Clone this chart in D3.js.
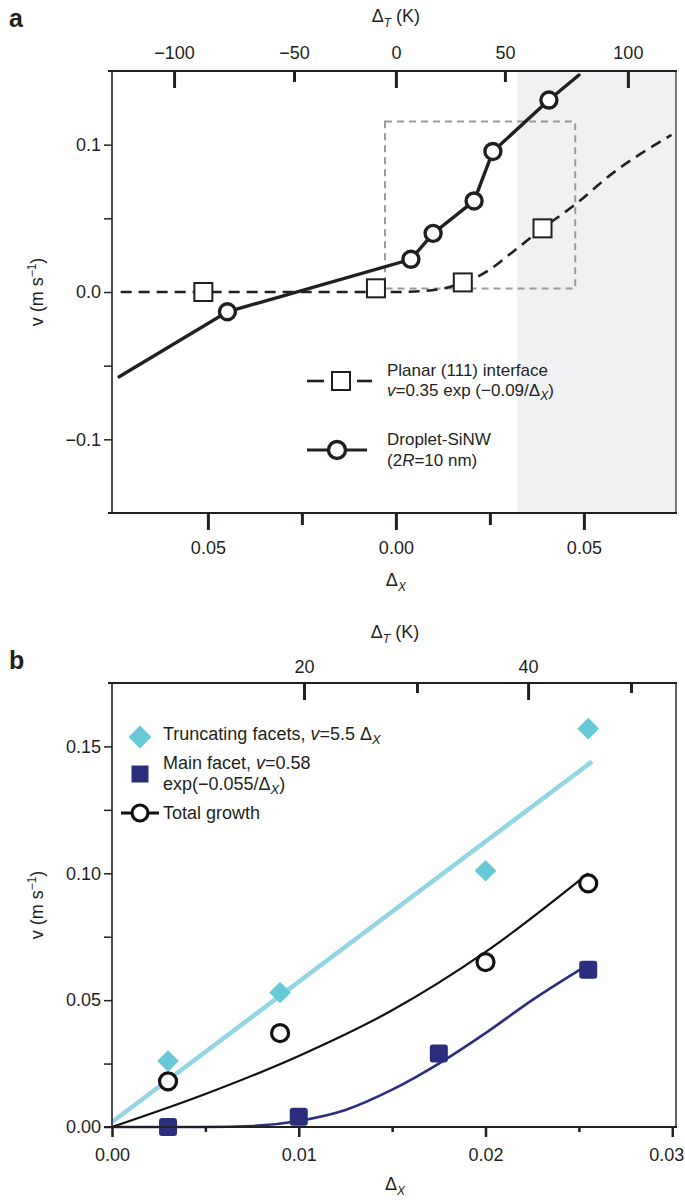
<!DOCTYPE html>
<html><head><meta charset="utf-8">
<script src="https://cdn.jsdelivr.net/npm/d3@7"></script>
<style>
body{margin:0;background:#fff}
svg{display:block}
text{font-family:"Liberation Sans",Arial,Helvetica,sans-serif;fill:#231f20}
</style>
</head><body>
<svg id="c" width="685" height="1201"></svg>
<script>
// ================= DATA =================
// ---- Panel a ----
const aDropX = [-0.0448, 0.0040, 0.0099, 0.0208, 0.0258, 0.0407];
const aDropV = [-0.0134, 0.0222, 0.0398, 0.0618, 0.0954, 0.1303];
const aDropLineX = [-0.0736, -0.0448, 0.0040, 0.0099, 0.0208, 0.0258, 0.0407, 0.0487];
const aDropLineV = [-0.0575, -0.0134, 0.0222, 0.0398, 0.0618, 0.0954, 0.1303, 0.1473];
const aPlanarX = [-0.0512, -0.0053, 0.0178, 0.0390];
const aPlanarV = [0.0, 0.0025, 0.0065, 0.0432];
const aPlanarFitX = [-0.0732, -0.03, 0.0, 0.008, 0.0145, 0.0178, 0.0241, 0.031, 0.039, 0.0475, 0.0576, 0.0733];
const aPlanarFitV = [0, 0, 0, 0.0008, 0.0035, 0.006, 0.0138, 0.027, 0.0432, 0.059, 0.0805, 0.1066];
const aBoxX = [-0.0029, 0.0477];
const aBoxV = [0.0023, 0.1157];
const aShadeX = [0.0322, 0.0745];
const aLeftTicks = [-0.1, -0.05, 0, 0.05, 0.1];
const aLeftLabels = ["\u22120.1", "", "0.0", "", "0.1"];
const aBottomMajor = [-0.05, 0, 0.05];
const aBottomMajorLabels = ["0.05", "0.00", "0.05"];
const aBottomMinor = [-0.025, 0.025];
const aTopMajorT = [-100, 0, 100];
const aTopMajorPos = [-0.0590, 0, 0.0617];
const aTopMinorT = [-50, 50];
const aTopMinorPos = [-0.0271, 0.0290];

// ---- Panel b ----
const bTruncX = [0.003, 0.009, 0.020, 0.0255];
const bTruncV = [0.026, 0.053, 0.101, 0.157];
const bTotalX = [0.003, 0.009, 0.020, 0.0255];
const bTotalV = [0.018, 0.037, 0.065, 0.096];
const bMainX = [0.003, 0.010, 0.0175, 0.0255];
const bMainV = [0.0, 0.004, 0.029, 0.062];
const bTruncFitX = [0, 0.0257];
const bTruncFitV = [0.002, 0.144];
const bTotalFitX = [0, 0.005, 0.01, 0.015, 0.02, 0.0255];
const bTotalFitV = [0, 0.013, 0.028, 0.046, 0.069, 0.100];
const bMainFitX = [0, 0.005, 0.0075, 0.01, 0.0125, 0.015, 0.0175, 0.02, 0.0225, 0.0255];
const bMainFitV = [0, 0.0, 0.0004, 0.0024, 0.0067, 0.0147, 0.025, 0.037, 0.050, 0.064];
const bLeftTicks = [0, 0.025, 0.05, 0.075, 0.10, 0.125, 0.15];
const bLeftLabels = ["0.00", "", "0.05", "", "0.10", "", "0.15"];
const bBottomMajor = [0, 0.01, 0.02, 0.03];
const bBottomMajorLabels = ["0.00", "0.01", "0.02", "0.03"];
const bBottomMinor = [0.005, 0.015, 0.025];
const bTopMajorT = [20, 40];
const bTopMajorPos = [0.01028, 0.02228];
const bTopMinorPos = [0.01633, 0.02779];

// ================= DRAWING =================
const INK = "#231f20";
const FONT = "'Liberation Sans',Arial,Helvetica,sans-serif";
const svg = d3.select("#c");

function axis(gen, vals, labels, inner, pad, sw, tx, ty) {
  const a = gen.tickValues(vals)
    .tickFormat((d, i) => labels ? labels[i] : "")
    .tickSizeInner(inner).tickSizeOuter(0).tickPadding(pad);
  const g = svg.append("g").attr("transform", `translate(${tx},${ty})`).call(a);
  g.attr("font-family", null).attr("font-size", 18);
  g.select(".domain").remove();
  g.selectAll(".tick line").attr("stroke", INK).attr("stroke-width", sw);
  g.selectAll(".tick text").attr("fill", INK).style("font-family", FONT).attr("font-size", 18);
  return g;
}

function deltaLabel(x, y, sub, rest) {
  const t = svg.append("text").attr("x", x).attr("y", y).attr("text-anchor", "middle").attr("font-size", 18);
  t.append("tspan").text("\u0394");
  t.append("tspan").attr("font-style", "italic").attr("font-size", 12).attr("dy", 5).text(sub);
  if (rest) t.append("tspan").attr("font-size", 18).attr("dy", -5).text(rest);
  return t;
}

function vLabel(cx, cy) {
  const t = svg.append("text").attr("transform", `translate(${cx},${cy}) rotate(-90)`)
    .attr("text-anchor", "middle").attr("font-size", 18);
  t.append("tspan").text("v (m s");
  t.append("tspan").attr("font-size", 12).attr("dy", -7).text("\u22121");
  t.append("tspan").attr("font-size", 18).attr("dy", 7).text(")");
}

// ---------- Panel a ----------
const A = {l: 112, r: 676, t: 71, b: 513};
const xA = d3.scaleLinear().domain([-0.0755, 0.0745]).range([A.l, A.r]);
const yA = d3.scaleLinear().domain([-0.15, 0.15]).range([A.b, A.t]);

svg.append("rect").attr("x", xA(aShadeX[0])).attr("y", A.t)
  .attr("width", xA(aShadeX[1]) - xA(aShadeX[0])).attr("height", A.b - A.t)
  .attr("fill", "#f1f1f3");

svg.append("rect").attr("x", xA(aBoxX[0])).attr("y", yA(aBoxV[1]))
  .attr("width", xA(aBoxX[1]) - xA(aBoxX[0])).attr("height", yA(aBoxV[0]) - yA(aBoxV[1]))
  .attr("fill", "none").attr("stroke", "#9a9a9a").attr("stroke-width", 2).attr("stroke-dasharray", "7,5");

const lineA = d3.line().x(d => xA(d[0])).y(d => yA(d[1]));
svg.append("path").datum(aPlanarFitX.map((x, i) => [x, aPlanarFitV[i]]))
  .attr("d", lineA.curve(d3.curveMonotoneX)).attr("fill", "none").attr("stroke", INK)
  .attr("stroke-width", 2.6).attr("stroke-dasharray", "11,7");
svg.append("path").datum(aDropLineX.map((x, i) => [x, aDropLineV[i]]))
  .attr("d", d3.line().x(d => xA(d[0])).y(d => yA(d[1]))).attr("fill", "none").attr("stroke", INK)
  .attr("stroke-width", 3.4).attr("stroke-linecap", "round");

const SQ = 18;
svg.selectAll(".sqa").data(aPlanarX).join("rect").attr("class", "sqa")
  .attr("x", (d) => xA(d) - SQ / 2).attr("y", (d, i) => yA(aPlanarV[i]) - SQ / 2)
  .attr("width", SQ).attr("height", SQ).attr("fill", "#fff").attr("stroke", INK).attr("stroke-width", 2);
svg.selectAll(".cia").data(aDropX).join("circle").attr("class", "cia")
  .attr("cx", d => xA(d)).attr("cy", (d, i) => yA(aDropV[i])).attr("r", 8)
  .attr("fill", "#fff").attr("stroke", INK).attr("stroke-width", 3.4);

// frame a
svg.append("line").attr("x1", A.l).attr("x2", A.l).attr("y1", A.t).attr("y2", A.b).attr("stroke", INK).attr("stroke-width", 1.6);
svg.append("line").attr("x1", A.r).attr("x2", A.r).attr("y1", A.t).attr("y2", A.b).attr("stroke", "#444").attr("stroke-width", 1.4);
svg.append("line").attr("x1", A.l - 4).attr("x2", A.r + 1).attr("y1", A.t).attr("y2", A.t).attr("stroke", INK).attr("stroke-width", 2);
svg.append("line").attr("x1", A.l - 4).attr("x2", A.r + 1).attr("y1", A.b).attr("y2", A.b).attr("stroke", INK).attr("stroke-width", 2);

axis(d3.axisLeft(yA), aLeftTicks, aLeftLabels, 8, 3, 1.5, A.l, 0);
axis(d3.axisBottom(xA), aBottomMajor, aBottomMajorLabels, 17, 11, 3, 0, A.b);
axis(d3.axisBottom(xA), aBottomMinor, null, 12, 3, 3, 0, A.b);
axis(d3.axisTop(xA), aTopMajorPos, aTopMajorT.map(d => d3.format("d")(d)), -17, 12, 3, 0, A.t);
axis(d3.axisTop(xA), aTopMinorPos, aTopMinorT.map(d => d3.format("d")(d)), -11, 12, 3, 0, A.t);

deltaLabel(xA(0), 586, "X");
deltaLabel(xA(0), 22, "T", "  (K)");
vLabel(43, (A.t + A.b) / 2);
svg.append("text").attr("x", 9).attr("y", 27).attr("font-size", 25).attr("font-weight", "bold").text("a");

// legend a
const LA = {sx: 307, tx: 387};
svg.append("line").attr("x1", LA.sx).attr("x2", LA.sx + 17).attr("y1", 381).attr("y2", 381).attr("stroke", INK).attr("stroke-width", 2.6);
svg.append("line").attr("x1", LA.sx + 50).attr("x2", LA.sx + 65).attr("y1", 381).attr("y2", 381).attr("stroke", INK).attr("stroke-width", 2.6);
svg.append("rect").attr("x", LA.sx + 34 - SQ / 2).attr("y", 381 - SQ / 2).attr("width", SQ).attr("height", SQ)
  .attr("fill", "#fff").attr("stroke", INK).attr("stroke-width", 2);
svg.append("line").attr("x1", LA.sx).attr("x2", LA.sx + 60).attr("y1", 450).attr("y2", 450).attr("stroke", INK).attr("stroke-width", 3);
svg.append("circle").attr("cx", LA.sx + 30).attr("cy", 450).attr("r", 8.5).attr("fill", "#fff").attr("stroke", INK).attr("stroke-width", 3.4);

svg.append("text").attr("x", LA.tx).attr("y", 376).attr("font-size", 17).text("Planar (111) interface");
{
  const t = svg.append("text").attr("x", LA.tx).attr("y", 396).attr("font-size", 17);
  t.append("tspan").attr("font-style", "italic").text("v");
  t.append("tspan").text("=0.35 exp (\u22120.09/\u0394");
  t.append("tspan").attr("font-style", "italic").attr("font-size", 12).attr("dy", 4).text("X");
  t.append("tspan").attr("dy", -4).text(")");
}
svg.append("text").attr("x", LA.tx).attr("y", 445).attr("font-size", 17).text("Droplet-SiNW");
{
  const t = svg.append("text").attr("x", LA.tx).attr("y", 466).attr("font-size", 17);
  t.append("tspan").text("(2");
  t.append("tspan").attr("font-style", "italic").text("R");
  t.append("tspan").text("=10 nm)");
}

// ---------- Panel b ----------
const B = {l: 112, r: 676, t: 683, b: 1127};
const xB = d3.scaleLinear().domain([0, 0.0302]).range([B.l, B.r]);
const yB = d3.scaleLinear().domain([0, 0.175]).range([B.b, B.t]);
const CYAN = "#67c9d8", CYANL = "#93d5e2", NAVY = "#2b2e7c";

const lineB = (xs, vs) => d3.line().curve(d3.curveMonotoneX).x(d => xB(d[0])).y(d => yB(d[1]))(xs.map((x, i) => [x, vs[i]]));
svg.append("path").attr("d", lineB(bTruncFitX, bTruncFitV)).attr("fill", "none").attr("stroke", CYANL).attr("stroke-width", 4.5);
svg.append("path").attr("d", lineB(bTotalFitX, bTotalFitV)).attr("fill", "none").attr("stroke", "#111").attr("stroke-width", 2.2);
svg.append("path").attr("d", lineB(bMainFitX, bMainFitV)).attr("fill", "none").attr("stroke", NAVY).attr("stroke-width", 2.6);

const diamond = d3.symbol().type(d3.symbolSquare).size(235);
svg.selectAll(".dmb").data(bTruncX).join("path").attr("class", "dmb")
  .attr("d", diamond).attr("fill", CYAN)
  .attr("transform", (d, i) => `translate(${xB(d)},${yB(bTruncV[i])}) rotate(45)`);
const MS = 18;
svg.selectAll(".sqb").data(bMainX).join("rect").attr("class", "sqb")
  .attr("x", d => xB(d) - MS / 2).attr("y", (d, i) => yB(bMainV[i]) - MS / 2)
  .attr("width", MS).attr("height", MS).attr("rx", 3).attr("fill", NAVY);
svg.selectAll(".cib").data(bTotalX).join("circle").attr("class", "cib")
  .attr("cx", d => xB(d)).attr("cy", (d, i) => yB(bTotalV[i])).attr("r", 8.5)
  .attr("fill", "#fff").attr("stroke", "#111").attr("stroke-width", 3.2);

// frame b
svg.append("line").attr("x1", B.l).attr("x2", B.l).attr("y1", B.t).attr("y2", B.b).attr("stroke", INK).attr("stroke-width", 1.6);
svg.append("line").attr("x1", B.r).attr("x2", B.r).attr("y1", B.t).attr("y2", B.b).attr("stroke", INK).attr("stroke-width", 1.4);
svg.append("line").attr("x1", B.l - 4).attr("x2", B.r + 1).attr("y1", B.t).attr("y2", B.t).attr("stroke", INK).attr("stroke-width", 2);
svg.append("line").attr("x1", B.l - 8).attr("x2", B.r + 1).attr("y1", B.b).attr("y2", B.b).attr("stroke", INK).attr("stroke-width", 2);

axis(d3.axisLeft(yB), bLeftTicks, bLeftLabels, 8, 3, 1.5, B.l, 0);
const bBot = axis(d3.axisBottom(xB), bBottomMajor, bBottomMajorLabels, 10, 11, 2.5, 0, B.b);
// keep the last label inside the page edge
bBot.selectAll(".tick text").filter((d) => d === 0.03).attr("dx", -6);
axis(d3.axisBottom(xB), bBottomMinor, null, 5, 3, 2.5, 0, B.b);
axis(d3.axisTop(xB), bTopMajorPos, bTopMajorT.map(d => d3.format("d")(d)), -17, 10, 3, 0, B.t);
axis(d3.axisTop(xB), bTopMinorPos, null, -10, 10, 3, 0, B.t);

deltaLabel(395, 1190, "X");
deltaLabel(395, 638, "T", "  (K)");
vLabel(43, (B.t + B.b) / 2);
svg.append("text").attr("x", 9).attr("y", 669).attr("font-size", 25).attr("font-weight", "bold").text("b");

// legend b
const LB = {sx: 140, tx: 163};
svg.append("path").attr("d", d3.symbol().type(d3.symbolSquare).size(260))
  .attr("transform", `translate(${LB.sx},737) rotate(45)`).attr("fill", CYAN);
svg.append("rect").attr("x", LB.sx - 8.5).attr("y", 774 - 8.5).attr("width", 17).attr("height", 17).attr("fill", NAVY);
svg.append("line").attr("x1", LB.sx - 19).attr("x2", LB.sx + 19).attr("y1", 813).attr("y2", 813).attr("stroke", "#111").attr("stroke-width", 3);
svg.append("circle").attr("cx", LB.sx).attr("cy", 813).attr("r", 8).attr("fill", "#fff").attr("stroke", "#111").attr("stroke-width", 3.2);
{
  const t = svg.append("text").attr("x", LB.tx).attr("y", 740).attr("font-size", 18);
  t.append("tspan").text("Truncating facets, ");
  t.append("tspan").attr("font-style", "italic").text("v");
  t.append("tspan").text("=5.5 \u0394");
  t.append("tspan").attr("font-style", "italic").attr("font-size", 13).attr("dy", 4).text("X");
}
{
  const t = svg.append("text").attr("x", LB.tx).attr("y", 769).attr("font-size", 18);
  t.append("tspan").text("Main facet, ");
  t.append("tspan").attr("font-style", "italic").text("v");
  t.append("tspan").text("=0.58");
}
{
  const t = svg.append("text").attr("x", LB.tx).attr("y", 790).attr("font-size", 18);
  t.append("tspan").text("exp(\u22120.055/\u0394");
  t.append("tspan").attr("font-style", "italic").attr("font-size", 13).attr("dy", 4).text("X");
  t.append("tspan").attr("dy", -4).text(")");
}
svg.append("text").attr("x", LB.tx).attr("y", 819).attr("font-size", 18).text("Total growth");
</script>
</body></html>
